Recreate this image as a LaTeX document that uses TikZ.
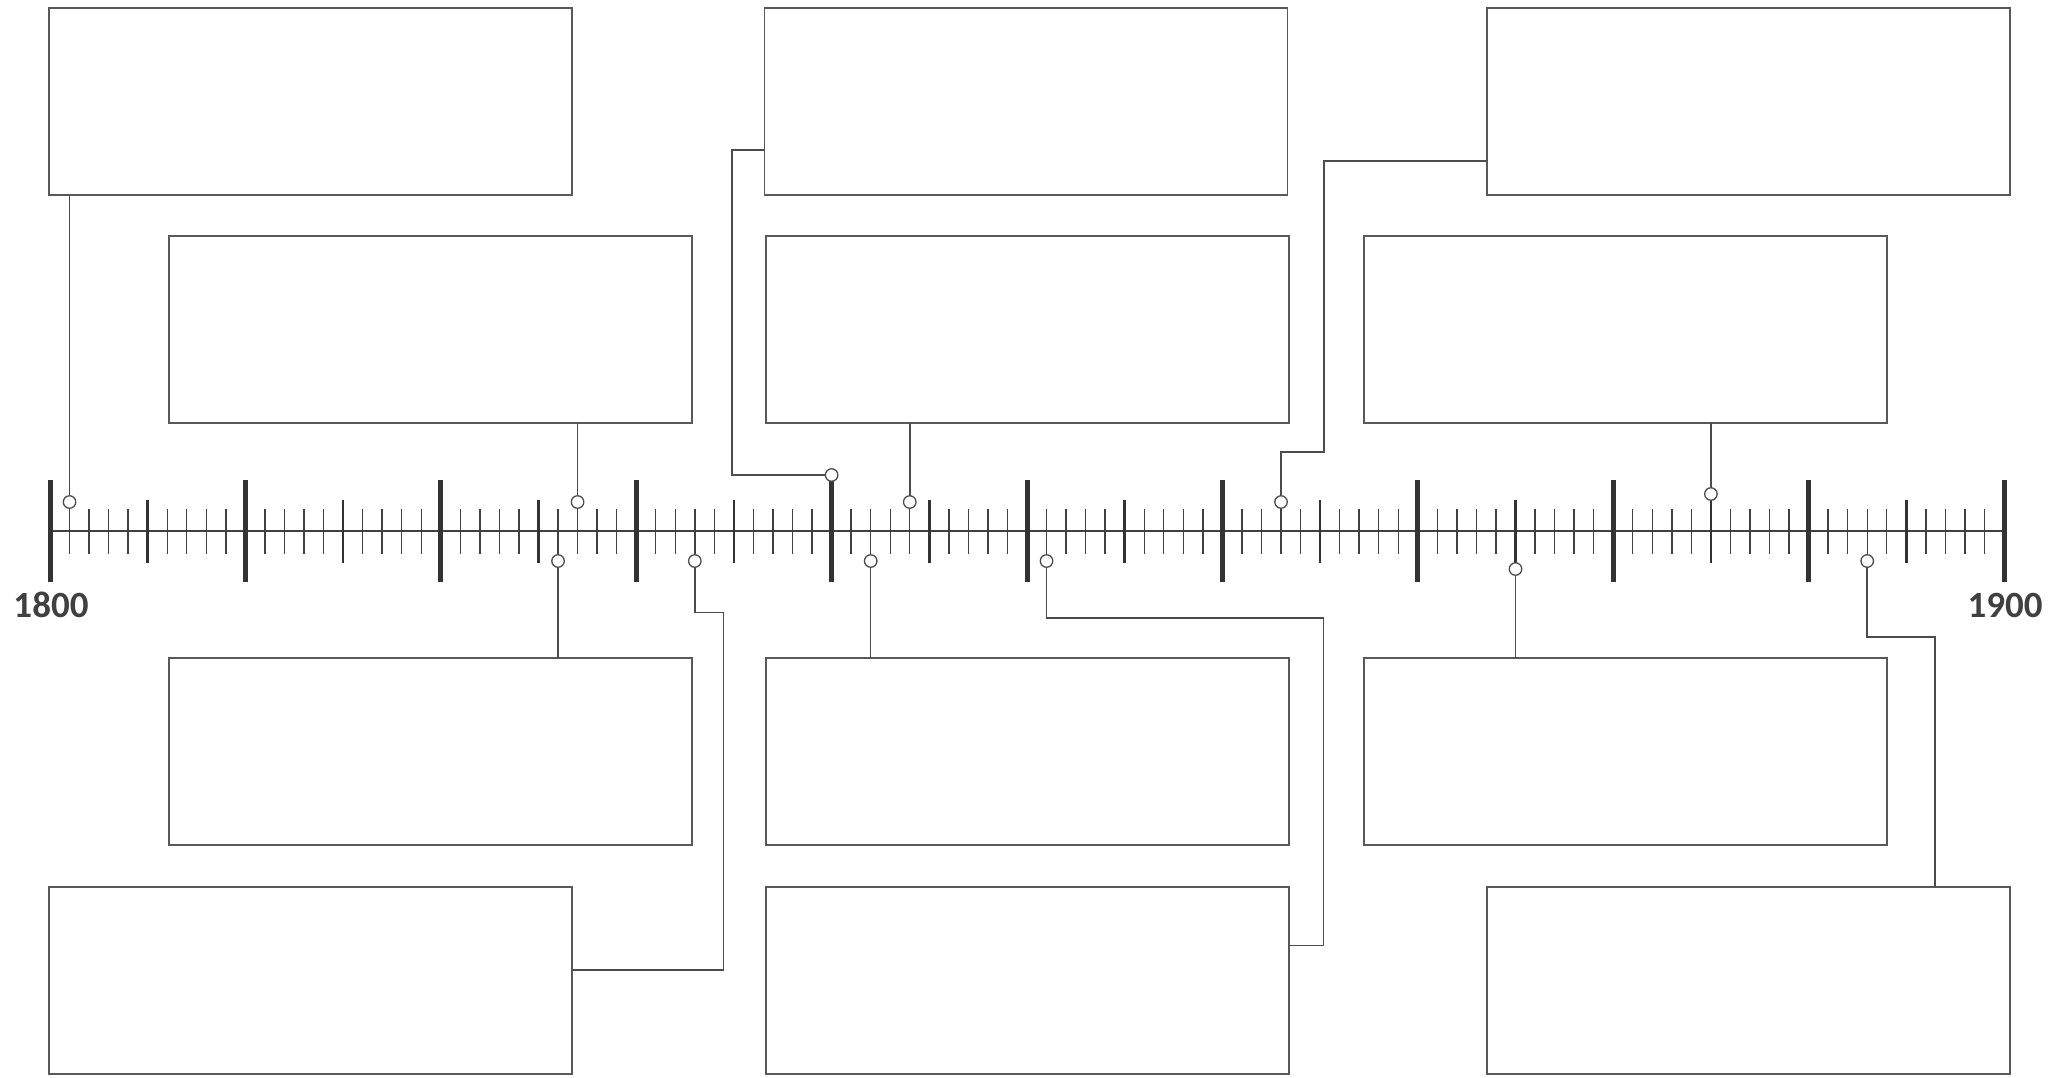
\documentclass[tikz,border=0pt]{standalone}
\usepackage{fontspec}
\setmainfont{Carlito}
\begin{document}
\begin{tikzpicture}[x=1pt,y=-1pt,
  declare function={yx(\t)=50+(\t-1800)*19.54;},
  evbox/.style={draw=black!65,line width=1.4pt,fill=white,rectangle,inner sep=0pt,outer sep=0pt,
    minimum width=523pt,minimum height=187pt,anchor=north west},
  dot/.style={circle,draw=black!70,line width=1.3pt,fill=white,inner sep=0pt,outer sep=0pt,minimum size=12.5pt},
  conn/.style={draw=black!70,line width=1.6pt},
  yearlab/.style={anchor=base,text=black!75,font=\fontsize{37}{40}\selectfont\bfseries,inner sep=0pt}]
\useasboundingbox (0,0) rectangle (2067,1077);
% boxes
\node[evbox] (A) at (49,8) {};
\node[evbox] (B) at (764.5,8) {};
\node[evbox] (C) at (1487,8) {};
\node[evbox] (D) at (169,236) {};
\node[evbox] (E) at (766,236) {};
\node[evbox] (F) at (1364,236) {};
\node[evbox] (G) at (169,658) {};
\node[evbox] (H) at (766,658) {};
\node[evbox] (I) at (1364,658) {};
\node[evbox] (J) at (49,887) {};
\node[evbox] (K) at (766,887) {};
\node[evbox] (L) at (1487,887) {};
% axis
\draw[black!75,line width=2.5pt] ({yx(1800)},531) -- ({yx(1900)},531);
\foreach \i in {0,...,100}{
  \pgfmathtruncatemacro\mten{mod(\i,10)}
  \pgfmathtruncatemacro\mfive{mod(\i,5)}
  \ifnum\mten=0
    \draw[black!80,line width=5pt] ({yx(1800+\i)},480) -- ({yx(1800+\i)},582);
  \else\ifnum\mfive=0
    \draw[black!80,line width=2.6pt] ({yx(1800+\i)},500) -- ({yx(1800+\i)},563);
  \else
    \draw[black!75,line width=1.4pt] ({yx(1800+\i)},509) -- ({yx(1800+\i)},554);
  \fi\fi
}
% circles
\node[dot] (c1) at ({yx(1801)},502) {};
\node[dot] (c2) at ({yx(1827)},502) {};
\node[dot] (c3) at ({yx(1840)},475) {};
\node[dot] (c4) at ({yx(1844)},502) {};
\node[dot] (c5) at ({yx(1863)},502) {};
\node[dot] (c6) at ({yx(1885)},494) {};
\node[dot] (c7) at ({yx(1826)},561) {};
\node[dot] (c8) at ({yx(1833)},561) {};
\node[dot] (c9) at ({yx(1842)},561) {};
\node[dot] (c10) at ({yx(1851)},561) {};
\node[dot] (c11) at ({yx(1875)},569) {};
\node[dot] (c12) at ({yx(1893)},561) {};
% connectors
\draw[conn] (A.south -| c1) -- (c1);
\draw[conn] (B.west |- 0,150) -| (732,475) -- (c3);
\draw[conn] (D.south -| c2) -- (c2);
\draw[conn] (E.south -| c4) -- (c4);
\draw[conn] (C.west |- 0,161) -| (1324,452) -| (c5);
\draw[conn] (F.south -| c6) -- (c6);
\draw[conn] (G.north -| c7) -- (c7);
\draw[conn] (J.east |- 0,970) -| (723.5,612.5) -| (c8);
\draw[conn] (H.north -| c9) -- (c9);
\draw[conn] (K.east |- 0,945.5) -| (1323.5,618) -| (c10);
\draw[conn] (I.north -| c11) -- (c11);
\draw[conn] (L.north -| 1935,0) |- (c12 |- 0,636.7) -- (c12);
% labels
\node[yearlab] (l1800) at (51,617) {1800};
\node[yearlab] (l1900) at (2005,617) {1900};
\end{tikzpicture}
\end{document}
